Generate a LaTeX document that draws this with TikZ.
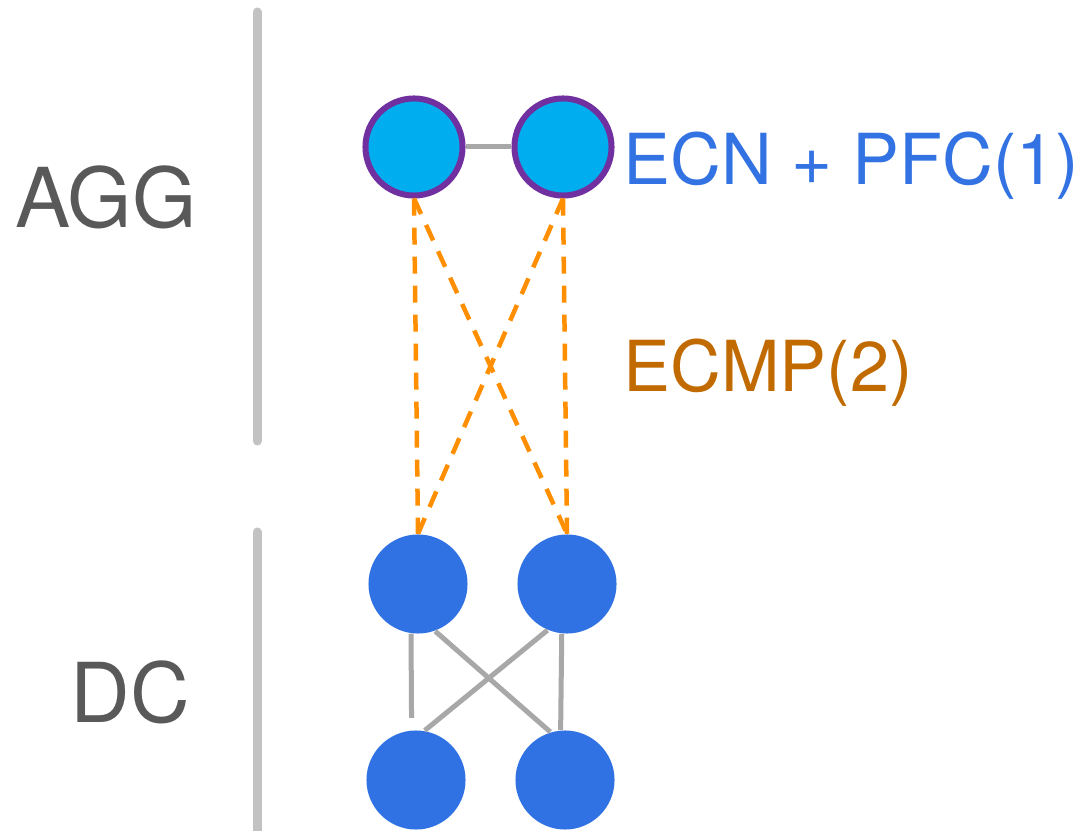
\documentclass[tikz,border=0pt]{standalone}
\usepackage{fontspec}
\setmainfont{TeX Gyre Heros}
\usepackage{tikz}

\definecolor{aggfill}{HTML}{00AEEF}
\definecolor{aggborder}{HTML}{7030A0}
\definecolor{dcfill}{HTML}{3071E3}
\definecolor{linkgray}{HTML}{A8A8A8}
\definecolor{bargray}{HTML}{C2C2C2}
\definecolor{labelgray}{HTML}{595959}
\definecolor{ecnblue}{HTML}{3272E2}
\definecolor{ecmporange}{HTML}{FF8F00}
\definecolor{ecmptext}{HTML}{C06A00}

\begin{document}
\begin{tikzpicture}[
    x=0.01cm, y=-0.01cm,
    agg/.style={circle, draw=aggborder, line width=0.06cm, fill=aggfill, minimum size=0.97cm, inner sep=0},
    dc/.style={circle, fill=dcfill, minimum size=0.99cm, inner sep=0},
    link/.style={line width=0.05cm, draw=linkgray},
    ecmp/.style={line width=0.045cm, draw=ecmporange, dash pattern=on 0.17cm off 0.12cm},
    tier/.style={line width=0.09cm, draw=bargray, line cap=round},
    tierlabel/.style={text=labelgray, font=\fontsize{23.5}{28}\selectfont, inner sep=0, anchor=base},
    proto/.style={font=\fontsize{20}{24}\selectfont, inner sep=0, anchor=base west}
]
\useasboundingbox (0,0) rectangle (1082,831);

% Tier separators
\draw[tier] (257,12) -- (257,441);
\draw[tier] (257,532) -- (257,850);

% Tier names
\node[tierlabel] (agglabel) at (106,228) {AGG};
\node[tierlabel] (dclabel) at (130,722) {DC};

% Define switches
\node[agg] (a1) at (414,147) {};
\node[agg] (a2) at (563,147) {};
\node[dc] (d1) at (418,584) {};
\node[dc] (d2) at (567,584) {};
\node[dc] (d3) at (416,780) {};
\node[dc] (d4) at (565,780) {};

% Define links
\draw[link] (a1) -- (a2);
\draw[link, shorten >=0.12cm] (d1.-98) -- (d3.95);
\draw[link] (d2.-96) -- (d4.95);
\draw[link] (d1.-70) -- (d4.107);
\draw[link] (d2.-113) -- (d3.80);

% Define ECMP paths
\draw[ecmp] (a1.south) -- (d1.north);
\draw[ecmp] (a1.south) -- (d2.north);
\draw[ecmp] (a2.south) -- (d1.north);
\draw[ecmp] (a2.south) -- (d2.north);

% Protocol labels
\node[proto, text=ecnblue] (ecn) at (623,185) {ECN + PFC(1)};
\node[proto, text=ecmptext] (ecmplabel) at (623,392) {ECMP(2)};

\end{tikzpicture}
\end{document}
